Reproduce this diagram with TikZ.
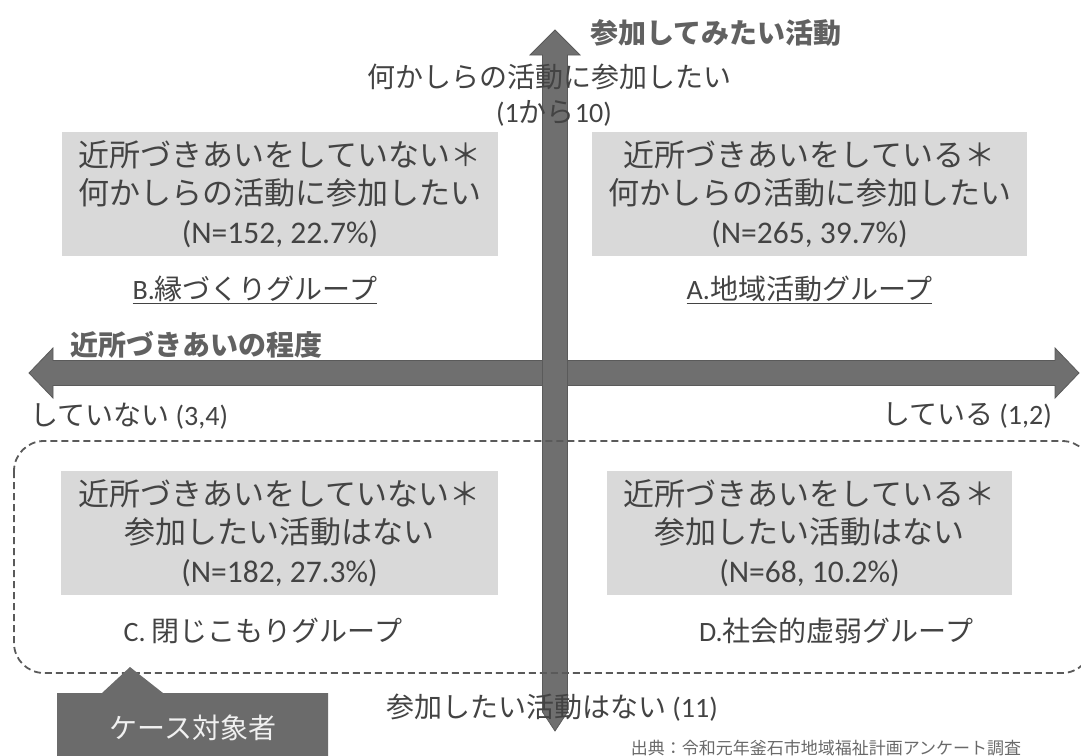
\documentclass[tikz,border=0pt]{standalone}
\usepackage{fontspec}
\setmainfont{Noto Sans CJK JP}
\newfontfamily\lat{Carlito}
\usetikzlibrary{positioning}
\definecolor{txtgray}{HTML}{434343}
\definecolor{boxgray}{HTML}{D9D9D9}
\definecolor{arrgray}{HTML}{6F6F6F}
\definecolor{edgegray}{HTML}{5A5A5A}
\definecolor{casegray}{HTML}{6B6B6B}
\tikzset{qbox/.style={fill=boxgray, text=txtgray, align=center, inner sep=0pt, minimum height=124pt, font=\fontsize{31}{38.5}\selectfont}}
\tikzset{lbl/.style={text=txtgray, inner sep=0pt, font=\fontsize{28}{34}\selectfont}}
\tikzset{axtitle/.style={lbl, text=black!62, font=\fontsize{28}{34}\selectfont\bfseries}}
\tikzset{blockarr/.style={fill=arrgray, draw=edgegray, line width=0.8pt}}
\tikzset{grp/.style={draw=edgegray, dash pattern=on 7pt off 4pt, line width=1.8pt, rounded corners=30pt}}
\newcommand{\nval}[1]{{\lat\fontsize{31.5}{38.5}\selectfont #1}}

\begin{document}
\begin{tikzpicture}[x=1pt, y=-1pt]
\useasboundingbox (0,0) rectangle (1081,755);
\draw[blockarr] (29,373) -- (53,348) -- (53,360.5) -- (1055,360.5) -- (1055,348) -- (1079,373)
    -- (1055,398) -- (1055,385.5) -- (53,385.5) -- (53,398) -- cycle;
\draw[blockarr] (542.5,712) -- (542.5,55) -- (530,55) -- (555,30) -- (580,55) -- (567.5,55)
    -- (567.5,712) -- (555,731) -- cycle;
\draw[grp] (14,441) rectangle (1092,673);

\node[qbox, minimum width=436pt] (nb) at (280,194)
    {近所づきあいをしていない＊\\何かしらの活動に参加したい\\\nval{(N=152, 22.7\%)}};
\node[qbox, minimum width=435pt] (na) at (809.5,194)
    {近所づきあいをしている＊\\何かしらの活動に参加したい\\\nval{(N=265, 39.7\%)}};
\node[qbox, minimum width=437pt] (nc) at (279.5,533)
    {近所づきあいをしていない＊\\参加したい活動はない\\\nval{(N=182, 27.3\%)}};
\node[qbox, minimum width=405pt] (nd) at (809.5,533)
    {近所づきあいをしている＊\\参加したい活動はない\\\nval{(N=68, 10.2\%)}};

\node[lbl] (gb) at (255,290) {\underline{{\lat B.}縁づくりグループ}};
\node[lbl] (ga) at (809.5,290) {\underline{{\lat A.}地域活動グループ}};
\node[lbl] (gc) at (263,631) {{\lat C.} 閉じこもりグループ};
\node[lbl] (gd) at (836,631) {{\lat D.}社会的虚弱グループ};

\node[axtitle, anchor=west] (ytitle) at (590,33) {参加してみたい活動};
\node[axtitle, anchor=west] (xtitle) at (70,345) {近所づきあいの程度};
\node[lbl] (ytop) at (549,77) {何かしらの活動に参加したい};
\node[lbl] (ytopn) at (554,113) {{\lat (1}から{\lat 10)}};
\node[lbl] (ybot) at (552,708) {参加したい活動はない {\lat (11)}};
\node[lbl, anchor=west] (xleft) at (30,416) {していない {\lat (3,4)}};
\node[lbl, anchor=east] (xright) at (1052,416) {している {\lat (1,2)}};

\fill[casegray] (57,693) -- (102,693) -- (130,667) -- (163,693) -- (328,693) -- (328,760) -- (57,760) -- cycle;
\node[lbl, text=white!94!black] (case) at (193,728) {ケース対象者};
\node[lbl, text=txtgray!80, font=\fontsize{17}{19}\selectfont] (src) at (826,748)
    {出典：令和元年釜石市地域福祉計画アンケート調査};
\end{tikzpicture}
\end{document}
